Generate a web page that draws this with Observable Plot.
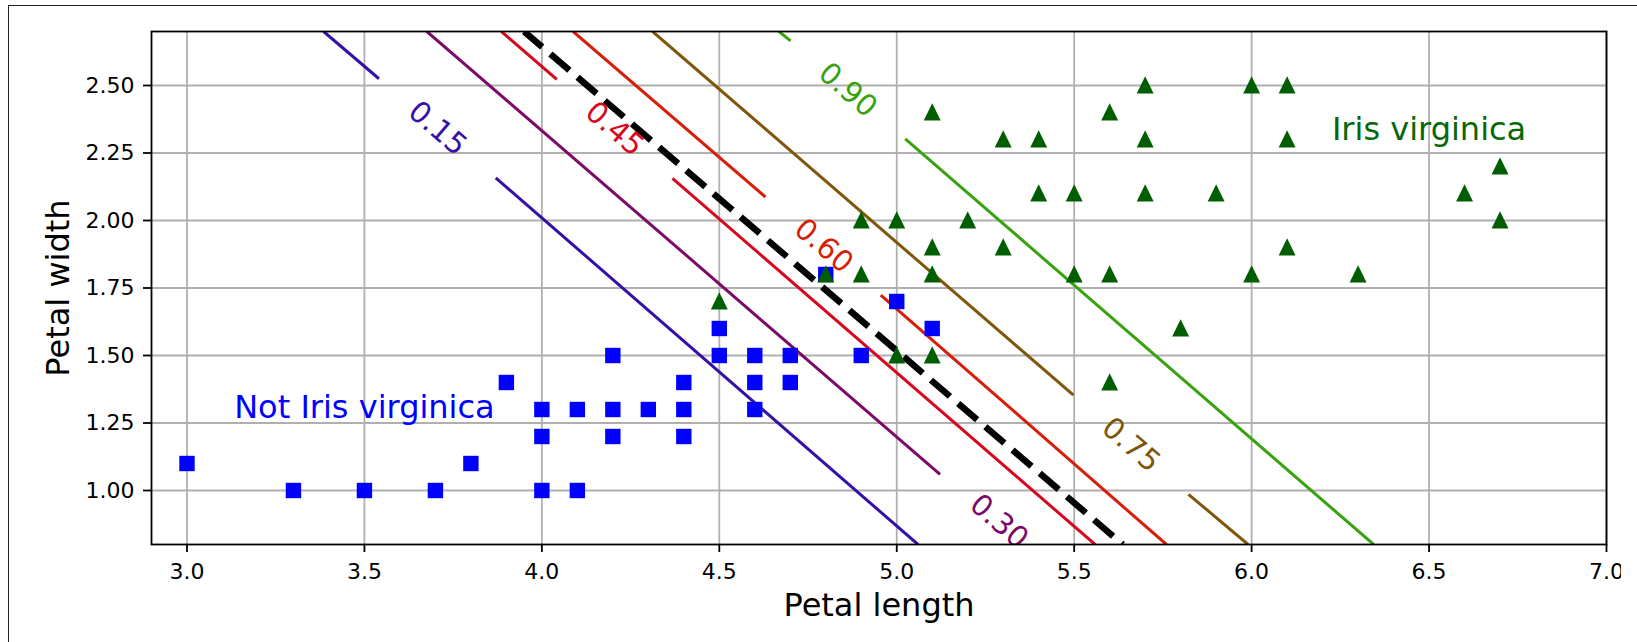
<!DOCTYPE html>
<html><head><meta charset="utf-8">
<script src="https://cdn.jsdelivr.net/npm/d3@7"></script>
<script src="https://cdn.jsdelivr.net/npm/@observablehq/plot@0.6"></script>
<style>
html,body{margin:0;padding:0;background:#fff;overflow:hidden;width:1637px;height:642px;}
#chart{position:absolute;left:0;top:0;}
#frame{position:absolute;left:8px;top:5px;width:1700px;height:700px;border:1.5px solid #222;box-sizing:border-box;pointer-events:none;}
</style></head><body>
<div id="chart"></div><div id="frame"></div>
<script>
// ---- tick labels ----
const xTicks = [3.0, 3.5, 4.0, 4.5, 5.0, 5.5, 6.0, 6.5, 7.0];
const yTicks = [1.00, 1.25, 1.50, 1.75, 2.00, 2.25, 2.50];

// ---- Not Iris virginica (blue squares) ----
const notVirginicaLength = [3.0,3.3,3.5,3.7,3.8,3.9,4.0,4.0,4.0,4.1,4.1,4.2,4.2,4.2,4.3,4.4,4.4,4.4,4.5,4.5,4.6,4.6,4.6,4.7,4.7,4.8,4.9,5.0,5.1];
const notVirginicaWidth  = [1.1,1.0,1.0,1.0,1.1,1.4,1.3,1.2,1.0,1.3,1.0,1.5,1.3,1.2,1.3,1.4,1.3,1.2,1.6,1.5,1.5,1.4,1.3,1.5,1.4,1.8,1.5,1.7,1.6];

// ---- Iris virginica (green triangles) ----
const virginicaLength = [4.5,4.8,4.9,4.9,5.0,5.0,5.1,5.1,5.1,5.1,5.2,5.3,5.3,5.4,5.4,5.5,5.5,5.6,5.6,5.6,5.7,5.7,5.7,5.8,5.9,6.0,6.0,6.1,6.1,6.1,6.3,6.6,6.7,6.7];
const virginicaWidth  = [1.7,1.8,2.0,1.8,2.0,1.5,2.4,1.9,1.8,1.5,2.0,2.3,1.9,2.3,2.1,2.1,1.8,2.4,1.8,1.4,2.5,2.3,2.1,1.6,2.1,2.5,1.8,2.5,2.3,1.9,1.8,2.1,2.2,2.0];

// ---- probability contours (segment endpoints) ----
const contourLevels = ["0.15", "0.30", "0.45", "0.60", "0.75", "0.90"];
const contourColors = ["#3510a8", "#7c0a68", "#d6081e", "#d61e08", "#80560a", "#38a210"];
const segLevel = [0, 0, 1, 2, 2, 3, 3, 4, 4, 5, 5];
const segX1 = [3.385, 3.870, 3.676, 3.886, 4.368, 4.088, 4.955, 4.312, 5.822, 4.668, 5.024];
const segY1 = [2.700, 2.158, 2.700, 2.700, 2.156, 2.700, 1.724, 2.700, 0.986, 2.700, 2.302];
const segX2 = [3.541, 5.060, 5.122, 4.042, 5.559, 4.630, 5.760, 5.498, 5.990, 4.701, 6.344];
const segY2 = [2.525, 0.800, 1.060, 2.523, 0.800, 2.087, 0.800, 1.353, 0.800, 2.665, 0.800];
// contour label centres
const labelX = [3.706, 5.288, 4.205, 4.794, 5.660, 4.862];
const labelY = [2.341, 0.885, 2.339, 1.906, 1.169, 2.483];

// ---- decision boundary (p = 0.5) ----
const boundaryX = [3.950, 5.637];
const boundaryY = [2.700, 0.800];

// ---- build tables ----
const squares = notVirginicaLength.map((x, i) => ({x, y: notVirginicaWidth[i]}));
const triangles = virginicaLength.map((x, i) => ({x, y: virginicaWidth[i]}));
const segments = segLevel.map((l, i) => ({level: l, x1: segX1[i], y1: segY1[i], x2: segX2[i], y2: segY2[i]}));
const labels = contourLevels.map((t, i) => ({text: t, level: i, x: labelX[i], y: labelY[i]}));
const boundary = boundaryX.map((x, i) => ({x, y: boundaryY[i]}));

const squareSym = {draw(ctx, size) { const r = Math.sqrt(size / Math.PI); ctx.rect(-r, -r, 2 * r, 2 * r); }};
const triSym = {draw(ctx, size) { const r = Math.sqrt(size / Math.PI);
  ctx.moveTo(0, -1.2 * r); ctx.lineTo(1.1 * r, 1.03 * r); ctx.lineTo(-1.1 * r, 1.03 * r); ctx.closePath(); }};

const font = "DejaVu Sans";
const angle = 40.7;

const contourMarks = contourLevels.map((t, l) =>
  Plot.link(segments.filter(d => d.level === l), {
    x1: "x1", y1: "y1", x2: "x2", y2: "y2",
    stroke: contourColors[l], strokeWidth: 3, strokeLinecap: "butt", clip: true
  }));
const labelMarks = contourLevels.map((t, l) =>
  Plot.text(labels.filter(d => d.level === l), {
    x: "x", y: "y", text: "text", rotate: angle, fill: contourColors[l],
    fontSize: 29.5, lineAnchor: "middle", textAnchor: "middle", clip: true
  }));

const chart = Plot.plot({
  width: 1621, height: 642,
  marginLeft: 151, marginRight: 15, marginTop: 31, marginBottom: 98,
  style: {fontFamily: font, background: "transparent", maxWidth: "none"},
  x: {domain: [2.9, 7], label: null},
  y: {domain: [0.8, 2.7], label: null},
  marks: [
    Plot.gridX(xTicks, {stroke: "#b0b0b0", strokeOpacity: 1, strokeWidth: 1.8}),
    Plot.gridY(yTicks, {stroke: "#b0b0b0", strokeOpacity: 1, strokeWidth: 1.8}),
    ...contourMarks,
    Plot.line(boundary, {x: "x", y: "y", stroke: "black", strokeWidth: 6.5,
      strokeDasharray: "25,10.8", strokeDashoffset: 1.2, strokeLinecap: "butt", clip: true}),
    Plot.dot(squares, {x: "x", y: "y", symbol: squareSym, r: 7.7, fill: "#0000ff"}),
    Plot.dot(triangles, {x: "x", y: "y", symbol: triSym, r: 7.7, fill: "#005e00"}),
    ...labelMarks,
    Plot.text(["Not Iris virginica"], {x: () => 3.5, y: () => 1.27, text: d => d,
      fill: "#0000ff", fontSize: 32, lineAnchor: "bottom", textAnchor: "middle"}),
    Plot.text(["Iris virginica"], {x: () => 6.5, y: () => 2.30, text: d => d,
      fill: "#066806", fontSize: 32, lineAnchor: "bottom", textAnchor: "middle"}),
    Plot.frame({stroke: "black", strokeWidth: 1.8}),
    Plot.axisX({ticks: xTicks, tickFormat: d3.format(".1f"), tickSize: 8, tickPadding: 11,
      fontSize: 22, strokeWidth: 1.8, label: null}),
    Plot.axisY({ticks: yTicks, tickFormat: d3.format(".2f"), tickSize: 8, tickPadding: 9,
      fontSize: 22, strokeWidth: 1.8, label: null}),
    Plot.text(["Petal length"], {frameAnchor: "bottom", text: d => d, dy: 71,
      lineAnchor: "bottom", textAnchor: "middle", fontSize: 32, fill: "black"}),
    Plot.text(["Petal width"], {frameAnchor: "left", text: d => d, dx: -82.3, rotate: -90,
      lineAnchor: "bottom", textAnchor: "middle", fontSize: 32, fill: "black"})
  ]
});
document.getElementById("chart").appendChild(chart);
</script>
</body></html>
